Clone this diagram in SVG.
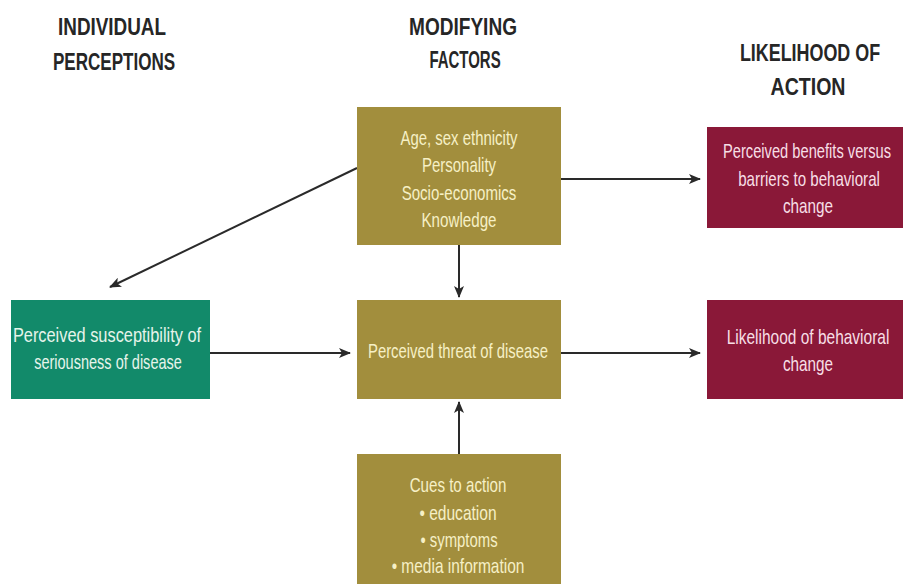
<svg xmlns="http://www.w3.org/2000/svg" width="903" height="584" viewBox="0 0 903 584">
<style>
.h{font-family:"Liberation Sans",Arial,sans-serif;font-weight:bold;font-size:24px;fill:#262626;text-anchor:middle}
.t{font-family:"Liberation Sans",Arial,sans-serif;font-size:20px;text-anchor:middle}
.olive{fill:#a28e3d}
.green{fill:#128a6a}
.maroon{fill:#8a1838}
.to{fill:#f6f0c6}
.tg{fill:#e6f4ea}
.tm{fill:#f7dfe6}
.c{stroke:#2a2a2a;stroke-width:2;fill:none;marker-end:url(#ah)}
</style>
<defs>
<marker id="ah" viewBox="0 0 12 10" refX="11" refY="5" markerWidth="12" markerHeight="10" markerUnits="userSpaceOnUse" orient="auto">
<path d="M0,0 L12,5 L0,10 L3,5 Z" fill="#2a2a2a"/>
</marker>
</defs>
<rect width="903" height="584" fill="#ffffff"/>
<g id="headings">
<text class="h" transform="translate(112,35) scale(0.75,1)" textLength="144" lengthAdjust="spacingAndGlyphs">INDIVIDUAL</text>
<text class="h" transform="translate(114,70) scale(0.75,1)" textLength="163" lengthAdjust="spacingAndGlyphs">PERCEPTIONS</text>
<text class="h" transform="translate(463,35) scale(0.75,1)" textLength="144" lengthAdjust="spacingAndGlyphs">MODIFYING</text>
<text class="h" transform="translate(465,68) scale(0.75,1)" textLength="95" lengthAdjust="spacingAndGlyphs">FACTORS</text>
<text class="h" transform="translate(810,61) scale(0.75,1)" textLength="187" lengthAdjust="spacingAndGlyphs">LIKELIHOOD OF</text>
<text class="h" transform="translate(808,95) scale(0.75,1)" textLength="100" lengthAdjust="spacingAndGlyphs">ACTION</text>
</g>
<g id="connectors">
<line class="c" x1="357" y1="168" x2="110" y2="287"/>
<line class="c" x1="561" y1="179" x2="700" y2="179"/>
<line class="c" x1="459" y1="245" x2="459" y2="297"/>
<line class="c" x1="210" y1="353" x2="350" y2="353"/>
<line class="c" x1="561" y1="353" x2="700" y2="353"/>
<line class="c" x1="459" y1="454" x2="459" y2="402"/>
</g>
<g id="modifying">
<rect class="olive" x="357" y="107" width="204" height="138"/>
<text class="t to" transform="translate(459,145) scale(0.75,1)" textLength="156" lengthAdjust="spacingAndGlyphs">Age, sex ethnicity</text>
<text class="t to" transform="translate(459,172) scale(0.75,1)" textLength="99" lengthAdjust="spacingAndGlyphs">Personality</text>
<text class="t to" transform="translate(459,200) scale(0.75,1)" textLength="153" lengthAdjust="spacingAndGlyphs">Socio-economics</text>
<text class="t to" transform="translate(459,227) scale(0.75,1)" textLength="100" lengthAdjust="spacingAndGlyphs">Knowledge</text>
</g>
<g id="benefits">
<rect class="maroon" x="707" y="127" width="196" height="101"/>
<text class="t tm" transform="translate(807,158) scale(0.75,1)" textLength="224" lengthAdjust="spacingAndGlyphs">Perceived benefits versus</text>
<text class="t tm" transform="translate(809,186) scale(0.75,1)" textLength="189" lengthAdjust="spacingAndGlyphs">barriers to behavioral</text>
<text class="t tm" transform="translate(808,213) scale(0.75,1)" textLength="67" lengthAdjust="spacingAndGlyphs">change</text>
</g>
<g id="susceptibility">
<rect class="green" x="11" y="300" width="199" height="99"/>
<text class="t tg" transform="translate(107,342) scale(0.75,1)" textLength="251" lengthAdjust="spacingAndGlyphs">Perceived susceptibility of</text>
<text class="t tg" transform="translate(108,369) scale(0.75,1)" textLength="197" lengthAdjust="spacingAndGlyphs">seriousness of disease</text>
</g>
<g id="threat">
<rect class="olive" x="357" y="300" width="204" height="99"/>
<text class="t to" transform="translate(458,358) scale(0.75,1)" textLength="240" lengthAdjust="spacingAndGlyphs">Perceived threat of disease</text>
</g>
<g id="likelihood">
<rect class="maroon" x="707" y="300" width="196" height="99"/>
<text class="t tm" transform="translate(808,344) scale(0.75,1)" textLength="217" lengthAdjust="spacingAndGlyphs">Likelihood of behavioral</text>
<text class="t tm" transform="translate(808,371) scale(0.75,1)" textLength="67" lengthAdjust="spacingAndGlyphs">change</text>
</g>
<g id="cues">
<rect class="olive" x="357" y="454" width="204" height="130"/>
<text class="t to" transform="translate(458,492) scale(0.75,1)" textLength="129" lengthAdjust="spacingAndGlyphs">Cues to action</text>
<text class="t to" transform="translate(458,520) scale(0.75,1)" textLength="103" lengthAdjust="spacingAndGlyphs">• education</text>
<text class="t to" transform="translate(459,547) scale(0.75,1)" textLength="103" lengthAdjust="spacingAndGlyphs">• symptoms</text>
<text class="t to" transform="translate(458,573) scale(0.75,1)" textLength="177" lengthAdjust="spacingAndGlyphs">• media information</text>
</g>
</svg>
